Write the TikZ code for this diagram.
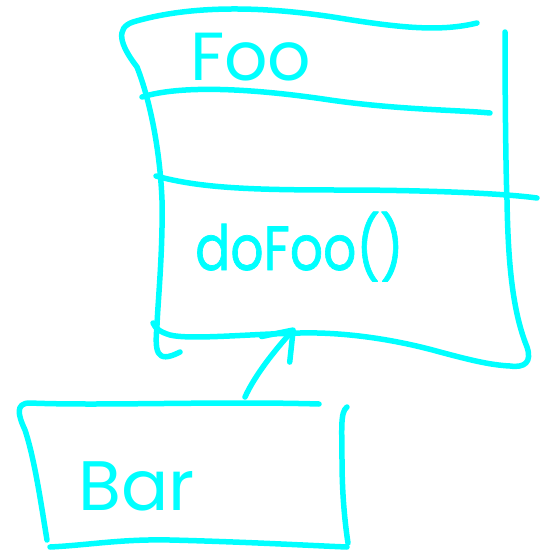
\documentclass[tikz,border=0pt]{standalone}
\usepackage{fontspec}
\setmainfont{Poppins}
\usetikzlibrary{arrows.meta}
\definecolor{marker}{RGB}{0,255,255}

\begin{document}
\begin{tikzpicture}[x=1pt, y=-1pt,
    pen/.style={line width=5.5pt, marker, line cap=round, line join=round},
    scrawl/.style={text=marker, inner sep=0pt, anchor=base west}]
    \useasboundingbox[fill=white] (0,0) rectangle (546,552);

    % class Foo: top edge and left side
    \draw[pen] (477,23) .. controls (440,32) and (400,28) .. (333,17)
        .. controls (280,9) and (200,2) .. (133,22)
        .. controls (115,28) and (120,45) .. (137,67)
        .. controls (150,100) and (160,150) .. (162,200)
        .. controls (163,250) and (158,300) .. (157,325)
        .. controls (155,350) and (155,365) .. (180,352);
    % right side running into the bottom edge
    \draw[pen] (505,32) .. controls (505,100) and (506,180) .. (507,200)
        .. controls (508,260) and (512,310) .. (527,347)
        .. controls (532,362) and (525,368) .. (510,366)
        .. controls (490,365) and (470,360) .. (440,352)
        .. controls (390,338) and (340,332) .. (300,333)
        .. controls (250,334) and (190,340) .. (170,335)
        .. controls (160,332) and (155,328) .. (153,323);
    % compartment lines
    \draw[pen] (142,97) .. controls (180,85) and (250,88) .. (330,100)
        .. controls (400,110) and (460,110) .. (490,113);
    \draw[pen] (156,176) .. controls (200,188) and (250,190) .. (340,190)
        .. controls (420,190) and (500,193) .. (537,198);

    \node[scrawl, font=\fontsize{68}{68}\selectfont] (foo) at (190,80) {Foo};
    \node[scrawl, font=\fontsize{52}{52}\selectfont\addfontfeature{FakeBold=1.2}]
        (dofoo) at (195,270) {\scalebox{1}[1.2]{doFoo()}};

    % class Bar
    \draw[pen] (319,404) .. controls (220,401) and (100,406) .. (30,403)
        .. controls (15,403) and (18,415) .. (25,430)
        .. controls (35,460) and (42,510) .. (47,540);
    \draw[pen] (50,547) .. controls (90,545) and (120,539) .. (170,540)
        .. controls (250,542) and (320,546) .. (347,547);
    \draw[pen] (347,407) .. controls (340,412) and (342,430) .. (342,460)
        .. controls (342,500) and (346,530) .. (348,543);

    \node[scrawl, font=\fontsize{70}{70}\selectfont] (bar) at (78,510) {Bar};

    % inheritance arrow
    \coordinate (barTop) at (245,397);
    \coordinate (fooBottom) at (295,328);
    \draw[pen, -{Straight Barb[length=26pt, width=38pt, round]}]
        (barTop) .. controls (255,375) and (275,350) .. (fooBottom);
\end{tikzpicture}
\end{document}
